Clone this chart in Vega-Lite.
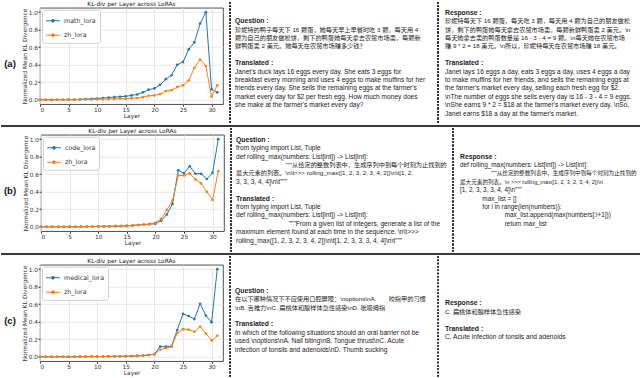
{
  "$schema": "https://vega.github.io/schema/vega-lite/v6.json",
  "padding": 0,
  "background": "white",
  "config": {
    "font": "Liberation Sans",
    "view": {"stroke": "#222", "strokeWidth": 0.8},
    "concat": {"spacing": 0},
    "axis": {"labelFont": "DejaVu Sans", "titleFont": "DejaVu Sans", "labelFontSize": 5.8, "titleFontSize": 5.9, "titleFontWeight": "normal", "labelColor": "#333", "titleColor": "#333", "tickColor": "#333", "tickSize": 2, "labelPadding": 0.5, "titlePadding": 0.5, "domain": false, "gridColor": "#e2e2e2", "gridWidth": 0.8},
    "title": {"font": "DejaVu Sans", "fontSize": 5.9, "fontWeight": "normal", "offset": 0.5, "color": "#222"},
    "legend": {"orient": "top-left", "offset": 2, "padding": 3.5, "strokeColor": "#d0d0d0", "fillColor": "white", "cornerRadius": 2, "labelFont": "DejaVu Sans", "labelFontSize": 6.3, "labelColor": "#333", "rowPadding": 3.5, "labelOffset": 3.5, "symbolSize": 190, "symbolStrokeWidth": 1, "symbolType": "M-1,0H1M-0.2,0A0.2,0.2,0,1,1,0.2,0A0.2,0.2,0,1,1,-0.2,0"}
  },
  "datasets": {
    "a": [
      {"layer":0,"math_lora":0,"zh_lora":0},{"layer":1,"math_lora":0,"zh_lora":0},{"layer":2,"math_lora":0,"zh_lora":0},{"layer":3,"math_lora":0,"zh_lora":0},
      {"layer":4,"math_lora":0,"zh_lora":0},{"layer":5,"math_lora":0.002,"zh_lora":0},{"layer":6,"math_lora":0.003,"zh_lora":0},{"layer":7,"math_lora":0.005,"zh_lora":0.002},
      {"layer":8,"math_lora":0.008,"zh_lora":0.003},{"layer":9,"math_lora":0.01,"zh_lora":0.004},{"layer":10,"math_lora":0.015,"zh_lora":0.005},{"layer":11,"math_lora":0.02,"zh_lora":0.006},
      {"layer":12,"math_lora":0.025,"zh_lora":0.008},{"layer":13,"math_lora":0.03,"zh_lora":0.01},{"layer":14,"math_lora":0.035,"zh_lora":0.012},{"layer":15,"math_lora":0.04,"zh_lora":0.012},
      {"layer":16,"math_lora":0.05,"zh_lora":0.018},{"layer":17,"math_lora":0.06,"zh_lora":0.02},{"layer":18,"math_lora":0.085,"zh_lora":0.03},{"layer":19,"math_lora":0.115,"zh_lora":0.045},
      {"layer":20,"math_lora":0.13,"zh_lora":0.05},{"layer":21,"math_lora":0.17,"zh_lora":0.065},{"layer":22,"math_lora":0.235,"zh_lora":0.1},{"layer":23,"math_lora":0.28,"zh_lora":0.11},
      {"layer":24,"math_lora":0.4,"zh_lora":0.145},{"layer":25,"math_lora":0.43,"zh_lora":0.165},{"layer":26,"math_lora":0.575,"zh_lora":0.22},{"layer":27,"math_lora":0.655,"zh_lora":0.365},
      {"layer":28,"math_lora":0.87,"zh_lora":0.46},{"layer":29,"math_lora":1.0,"zh_lora":0.385},{"layer":30,"math_lora":0.12,"zh_lora":0.035},{"layer":31,"math_lora":0.085,"zh_lora":0.165}
    ],
    "b": [
      {"layer":0,"code_lora":0,"zh_lora":0},{"layer":1,"code_lora":0,"zh_lora":0},{"layer":2,"code_lora":0,"zh_lora":0},{"layer":3,"code_lora":0,"zh_lora":0},
      {"layer":4,"code_lora":0,"zh_lora":0},{"layer":5,"code_lora":0,"zh_lora":0},{"layer":6,"code_lora":0,"zh_lora":0},{"layer":7,"code_lora":0.001,"zh_lora":0.001},
      {"layer":8,"code_lora":0.002,"zh_lora":0.002},{"layer":9,"code_lora":0.003,"zh_lora":0.003},{"layer":10,"code_lora":0.004,"zh_lora":0.004},{"layer":11,"code_lora":0.005,"zh_lora":0.005},
      {"layer":12,"code_lora":0.006,"zh_lora":0.006},{"layer":13,"code_lora":0.007,"zh_lora":0.007},{"layer":14,"code_lora":0.008,"zh_lora":0.008},{"layer":15,"code_lora":0.01,"zh_lora":0.01},
      {"layer":16,"code_lora":0.015,"zh_lora":0.015},{"layer":17,"code_lora":0.02,"zh_lora":0.02},{"layer":18,"code_lora":0.025,"zh_lora":0.025},{"layer":19,"code_lora":0.03,"zh_lora":0.03},
      {"layer":20,"code_lora":0.035,"zh_lora":0.045},{"layer":21,"code_lora":0.07,"zh_lora":0.09},{"layer":22,"code_lora":0.14,"zh_lora":0.19},{"layer":23,"code_lora":0.26,"zh_lora":0.3},
      {"layer":24,"code_lora":0.645,"zh_lora":0.585},{"layer":25,"code_lora":0.61,"zh_lora":0.585},{"layer":26,"code_lora":0.69,"zh_lora":0.61},{"layer":27,"code_lora":0.605,"zh_lora":0.54},
      {"layer":28,"code_lora":0.605,"zh_lora":0.495},{"layer":29,"code_lora":0.545,"zh_lora":0.4},{"layer":30,"code_lora":0.615,"zh_lora":0.305},{"layer":31,"code_lora":1.0,"zh_lora":0.635}
    ],
    "c": [
      {"layer":0,"medical_lora":0,"zh_lora":0},{"layer":1,"medical_lora":0,"zh_lora":0},{"layer":2,"medical_lora":0,"zh_lora":0},{"layer":3,"medical_lora":0,"zh_lora":0},
      {"layer":4,"medical_lora":0,"zh_lora":0},{"layer":5,"medical_lora":0,"zh_lora":0},{"layer":6,"medical_lora":0,"zh_lora":0},{"layer":7,"medical_lora":0.001,"zh_lora":0.001},
      {"layer":8,"medical_lora":0.002,"zh_lora":0.002},{"layer":9,"medical_lora":0.002,"zh_lora":0.002},{"layer":10,"medical_lora":0.003,"zh_lora":0.003},{"layer":11,"medical_lora":0.003,"zh_lora":0.003},
      {"layer":12,"medical_lora":0.004,"zh_lora":0.004},{"layer":13,"medical_lora":0.005,"zh_lora":0.005},{"layer":14,"medical_lora":0.006,"zh_lora":0.006},{"layer":15,"medical_lora":0.007,"zh_lora":0.007},
      {"layer":16,"medical_lora":0.008,"zh_lora":0.008},{"layer":17,"medical_lora":0.01,"zh_lora":0.01},{"layer":18,"medical_lora":0.015,"zh_lora":0.015},{"layer":19,"medical_lora":0.02,"zh_lora":0.02},
      {"layer":20,"medical_lora":0.03,"zh_lora":0.03},{"layer":21,"medical_lora":0.115,"zh_lora":0.08},{"layer":22,"medical_lora":0.115,"zh_lora":0.1},{"layer":23,"medical_lora":0.12,"zh_lora":0.115},
      {"layer":24,"medical_lora":0.305,"zh_lora":0.27},{"layer":25,"medical_lora":0.49,"zh_lora":0.315},{"layer":26,"medical_lora":0.465,"zh_lora":0.31},{"layer":27,"medical_lora":0.43,"zh_lora":0.285},
      {"layer":28,"medical_lora":0.605,"zh_lora":0.345},{"layer":29,"medical_lora":0.47,"zh_lora":0.265},{"layer":30,"medical_lora":0.395,"zh_lora":0.185},{"layer":31,"medical_lora":1.0,"zh_lora":0.24}
    ],
    "text": [
      {"row":"a","panel":"q","line":0,"kind":"head","text":"Question :"},
      {"row":"a","panel":"q","line":1,"kind":"zh","text":"珍妮特的鸭子每天下 16 颗蛋，她每天早上早餐时吃 3 颗，每天用 4"},
      {"row":"a","panel":"q","line":2,"kind":"zh","text":"颗为自己的朋友做松饼，剩下的鸭蛋她每天拿去农贸市场卖，每颗新"},
      {"row":"a","panel":"q","line":3,"kind":"zh","text":"鲜鸭蛋卖 2 美元。她每天在农贸市场赚多少钱？"},
      {"row":"a","panel":"q","line":5,"kind":"head","text":"Translated :"},
      {"row":"a","panel":"q","line":6,"kind":"en","text":"Janet's duck lays 16 eggs every day. She eats 3 eggs for"},
      {"row":"a","panel":"q","line":7,"kind":"en","text":"breakfast every morning and uses 4 eggs to make muffins for her"},
      {"row":"a","panel":"q","line":8,"kind":"en","text":"friends every day. She sells the remaining eggs at the farmer's"},
      {"row":"a","panel":"q","line":9,"kind":"en","text":"market every day for $2 per fresh egg. How much money does"},
      {"row":"a","panel":"q","line":10,"kind":"en","text":"she make at the farmer's market every day?"},
      {"row":"a","panel":"r","line":0,"kind":"head","text":"Response :"},
      {"row":"a","panel":"r","line":1,"kind":"zh","text":"珍妮特每天下 16 颗蛋，每天吃 3 颗，每天用 4 颗为自己的朋友做松"},
      {"row":"a","panel":"r","line":2,"kind":"zh","text":"饼，剩下的鸭蛋她每天拿去农贸市场卖，每颗新鲜鸭蛋卖 2 美元。\\n"},
      {"row":"a","panel":"r","line":3,"kind":"zh","text":"每天她拿去卖的鸭蛋数量是 16 - 3 - 4 = 9 颗。\\n每天她在农贸市场"},
      {"row":"a","panel":"r","line":4,"kind":"zh","text":"赚 9 * 2 = 18 美元。\\n所以，珍妮特每天在农贸市场赚 18 美元。"},
      {"row":"a","panel":"r","line":6,"kind":"head","text":"Translated :"},
      {"row":"a","panel":"r","line":7,"kind":"en","text":"Janet lays 16 eggs a day, eats 3 eggs a day, uses 4 eggs a day"},
      {"row":"a","panel":"r","line":8,"kind":"en","text":"to make muffins for her friends, and sells the remaining eggs at"},
      {"row":"a","panel":"r","line":9,"kind":"en","text":"the farmer's market every day, selling each fresh egg for $2."},
      {"row":"a","panel":"r","line":10,"kind":"en","text":"\\nThe number of eggs she sells every day is 16 - 3 - 4 = 9 eggs."},
      {"row":"a","panel":"r","line":11,"kind":"en","text":"\\nShe earns 9 * 2 = $18 at the farmer's market every day. \\nSo,"},
      {"row":"a","panel":"r","line":12,"kind":"en","text":"Janet earns $18 a day at the farmer's market."},
      {"row":"b","panel":"q","line":0,"kind":"head","text":"Question :"},
      {"row":"b","panel":"q","line":1,"kind":"en","text":"from typing import List, Tuple"},
      {"row":"b","panel":"q","line":2,"kind":"en","text":"def rolling_max(numbers: List[int]) -> List[int]:"},
      {"row":"b","panel":"q","line":3,"kind":"zh","text":"\u200b\u2003\u2003\u2003\u2003\u2003\u2003\u2003\u2003\"\"\"从给定的整数列表中，生成序列中到每个时刻为止找到的"},
      {"row":"b","panel":"q","line":4,"kind":"zh","text":"最大元素的列表。\\n\\t>>> rolling_max([1, 2, 3, 2, 3, 4, 2])\\n\\t[1, 2,"},
      {"row":"b","panel":"q","line":5,"kind":"en","text":"3, 3, 3, 4, 4]\\n\\t\"\"\""},
      {"row":"b","panel":"q","line":7,"kind":"head","text":"Translated :"},
      {"row":"b","panel":"q","line":8,"kind":"en","text":"from typing import List, Tuple"},
      {"row":"b","panel":"q","line":9,"kind":"en","text":"def rolling_max(numbers: List[int]) -> List[int]:"},
      {"row":"b","panel":"q","line":10,"kind":"en","text":"\u200b\u2003\u2003\u2003\u2003\u2003\u2003\u2003\u2003\"\"\"From a given list of integers, generate a list of the"},
      {"row":"b","panel":"q","line":11,"kind":"en","text":"maximum element found at each time in the sequence. \\n\\t>>>"},
      {"row":"b","panel":"q","line":12,"kind":"en","text":"rolling_max([1, 2, 3, 2, 3, 4, 2])\\n\\t[1, 2, 3, 3, 3, 4, 4]\\n\\t\"\"\""},
      {"row":"b","panel":"r","line":0,"kind":"head","text":"Response :"},
      {"row":"b","panel":"r","line":1,"kind":"en","text":"def rolling_max(numbers: List[int]) -> List[int]:"},
      {"row":"b","panel":"r","line":2,"kind":"zh","text":"\u200b\u2003\u2003\u2003\u2003\u2003\u2002\"\"\"从给定的整数列表中，生成序列中到每个时刻为止找到的"},
      {"row":"b","panel":"r","line":3,"kind":"zh","text":"最大元素的列表。\\n  >>> rolling_max([1, 2, 3, 2, 3, 4, 2])\\n"},
      {"row":"b","panel":"r","line":4,"kind":"en","text":"[1, 2, 3, 3, 3, 4, 4]\\n\"\"\""},
      {"row":"b","panel":"r","line":5,"kind":"en","text":"\u200b\u2003\u2003\u2003\u2002max_list = []"},
      {"row":"b","panel":"r","line":6,"kind":"en","text":"\u200b\u2003\u2003\u2003\u2002for i in range(len(numbers)):"},
      {"row":"b","panel":"r","line":7,"kind":"en","text":"\u200b\u2003\u2003\u2003\u2003\u2003\u2003\u2003max_list.append(max(numbers[:i+1]))"},
      {"row":"b","panel":"r","line":8,"kind":"en","text":"\u200b\u2003\u2003\u2003\u2003\u2003\u2003\u2003return max_list"},
      {"row":"c","panel":"q","line":0,"kind":"head","text":"Question :"},
      {"row":"c","panel":"q","line":1,"kind":"zh","text":"在以下哪种情况下不应使用口腔屏障：\\noptions\\nA.\u2003\u2003咬指甲的习惯"},
      {"row":"c","panel":"q","line":2,"kind":"zh","text":"\\nB. 舌推力\\nC. 扁桃体和腺样体急性感染\\nD. 吮吸拇指"},
      {"row":"c","panel":"q","line":4,"kind":"head","text":"Translated :"},
      {"row":"c","panel":"q","line":5,"kind":"en","text":"In which of the following situations should an oral barrier not be"},
      {"row":"c","panel":"q","line":6,"kind":"en","text":"used \\noptions\\nA.  Nail biting\\nB.  Tongue thrust\\nC.  Acute"},
      {"row":"c","panel":"q","line":7,"kind":"en","text":"infection of tonsils and adenoids\\nD. Thumb sucking"},
      {"row":"c","panel":"r","line":0,"kind":"head","text":"Response :"},
      {"row":"c","panel":"r","line":1,"kind":"zh","text":"C. 扁桃体和腺样体急性感染"},
      {"row":"c","panel":"r","line":3,"kind":"head","text":"Translated :"},
      {"row":"c","panel":"r","line":4,"kind":"en","text":"C. Acute infection of tonsils and adenoids"}
    ]
  },
  "resolve": {"scale": {"x": "independent", "y": "independent", "color": "independent"}, "legend": {"color": "independent"}},
  "vconcat": [
    {
      "hconcat": [
        {"width": 14, "height": 122, "view": {"stroke": null}, "data": {"values": [{"label": "(a)"}]}, "mark": {"type": "text", "fontSize": 9.5, "fontWeight": "bold", "color": "#111", "dx": 2}, "encoding": {"text": {"field": "label"}}},
        {
          "width": 183, "height": 96.4,
          "data": {"name": "a"},
          "transform": [{"fold": ["math_lora", "zh_lora"], "as": ["lora", "kl"]}],
          "title": "KL-div per Layer across LoRAs",
          "encoding": {
            "x": {"field": "layer", "type": "quantitative", "title": "Layer", "scale": {"domain": [0, 32], "nice": false}, "axis": {"values": [0, 5, 10, 15, 20, 25, 30]}},
            "y": {"field": "kl", "type": "quantitative", "title": "Normalized Mean KL Divergence", "scale": {"domain": [-0.05, 1.05], "nice": false, "zero": false}, "axis": {"values": [0, 0.2, 0.4, 0.6, 0.8, 1], "format": ".1f"}},
            "color": {"field": "lora", "type": "nominal", "scale": {"domain": ["math_lora", "zh_lora"], "range": ["#1f77b4", "#ff7f0e"]}, "legend": {"title": null}}
          },
          "layer": [
            {"mark": {"type": "line", "strokeWidth": 1}},
            {"mark": {"type": "point", "filled": true, "size": 7, "opacity": 1}}
          ]
        },
        {
          "width": 201.7, "height": 122, "view": {"stroke": null},
          "data": {"name": "text"},
          "transform": [{"filter": "datum.row === 'a' && datum.panel === 'q'"}],
          "encoding": {
            "x": {"datum": 0, "type": "quantitative", "scale": {"domain": [0, 1]}, "axis": null},
            "y": {"field": "line", "type": "quantitative", "scale": {"domain": [-2.262, 12.262], "reverse": true, "nice": false, "zero": false}, "axis": null},
            "text": {"field": "text"}
          },
          "layer": [
            {"mark": {"type": "rule", "strokeDash": [1.5, 1.8], "strokeWidth": 1.4, "color": "#333"}, "encoding": {"y": null, "text": null}},
            {"transform": [{"filter": "datum.kind === 'head'"}], "mark": {"type": "text", "align": "left", "baseline": "middle", "dx": 5, "fontSize": 6.8, "fontWeight": "bold", "color": "#222"}},
            {"transform": [{"filter": "datum.kind === 'zh'"}], "mark": {"type": "text", "align": "left", "baseline": "middle", "dx": 5, "fontSize": 6.2, "color": "#222", "font": "Liberation Sans, Noto Sans CJK SC"}},
            {"transform": [{"filter": "datum.kind === 'en'"}], "mark": {"type": "text", "align": "left", "baseline": "middle", "dx": 5, "fontSize": 6.6, "color": "#222"}}
          ]
        },
        {
          "width": 206, "height": 122, "view": {"stroke": null},
          "data": {"name": "text"},
          "transform": [{"filter": "datum.row === 'a' && datum.panel === 'r'"}],
          "encoding": {
            "x": {"datum": 0, "type": "quantitative", "scale": {"domain": [0, 1]}, "axis": null},
            "y": {"field": "line", "type": "quantitative", "scale": {"domain": [-1.262, 13.262], "reverse": true, "nice": false, "zero": false}, "axis": null},
            "text": {"field": "text"}
          },
          "layer": [
            {"mark": {"type": "rule", "strokeDash": [1.5, 1.8], "strokeWidth": 1.4, "color": "#333"}, "encoding": {"y": null, "text": null}},
            {"transform": [{"filter": "datum.kind === 'head'"}], "mark": {"type": "text", "align": "left", "baseline": "middle", "dx": 7, "fontSize": 6.8, "fontWeight": "bold", "color": "#222"}},
            {"transform": [{"filter": "datum.kind === 'zh'"}], "mark": {"type": "text", "align": "left", "baseline": "middle", "dx": 7, "fontSize": 6.2, "color": "#222", "font": "Liberation Sans, Noto Sans CJK SC"}},
            {"transform": [{"filter": "datum.kind === 'en'"}], "mark": {"type": "text", "align": "left", "baseline": "middle", "dx": 7, "fontSize": 6.6, "color": "#222"}}
          ]
        }
      ],
      "spacing": 5, "center": true,
      "resolve": {"scale": {"x": "independent", "y": "independent", "color": "independent"}, "legend": {"color": "independent"}}
    },
    {"width": 640, "height": 2, "view": {"stroke": null}, "data": {"values": [{}]}, "mark": {"type": "rule", "color": "#3a3a3a", "strokeWidth": 2}, "encoding": {"y": {"datum": 0.5, "type": "quantitative", "scale": {"domain": [0, 1]}, "axis": null}}},
    {
      "hconcat": [
        {"width": 14, "height": 124, "view": {"stroke": null}, "data": {"values": [{"label": "(b)"}]}, "mark": {"type": "text", "fontSize": 9.5, "fontWeight": "bold", "color": "#111", "dx": 2}, "encoding": {"text": {"field": "label"}}},
        {
          "width": 183, "height": 96.4,
          "data": {"name": "b"},
          "transform": [{"fold": ["code_lora", "zh_lora"], "as": ["lora", "kl"]}],
          "title": "KL-div per Layer across LoRAs",
          "encoding": {
            "x": {"field": "layer", "type": "quantitative", "title": "Layer", "scale": {"domain": [0, 32], "nice": false}, "axis": {"values": [0, 5, 10, 15, 20, 25, 30]}},
            "y": {"field": "kl", "type": "quantitative", "title": "Normalized Mean KL Divergence", "scale": {"domain": [-0.05, 1.05], "nice": false, "zero": false}, "axis": {"values": [0, 0.2, 0.4, 0.6, 0.8, 1], "format": ".1f"}},
            "color": {"field": "lora", "type": "nominal", "scale": {"domain": ["code_lora", "zh_lora"], "range": ["#1f77b4", "#ff7f0e"]}, "legend": {"title": null}}
          },
          "layer": [
            {"mark": {"type": "line", "strokeWidth": 1}},
            {"mark": {"type": "point", "filled": true, "size": 7, "opacity": 1}}
          ]
        },
        {
          "width": 201.7, "height": 124, "view": {"stroke": null},
          "data": {"name": "text"},
          "transform": [{"filter": "datum.row === 'b' && datum.panel === 'q'"}],
          "encoding": {
            "x": {"datum": 0, "type": "quantitative", "scale": {"domain": [0, 1]}, "axis": null},
            "y": {"field": "line", "type": "quantitative", "scale": {"domain": [-1.381, 13.381], "reverse": true, "nice": false, "zero": false}, "axis": null},
            "text": {"field": "text"}
          },
          "layer": [
            {"mark": {"type": "rule", "strokeDash": [1.5, 1.8], "strokeWidth": 1.4, "color": "#333"}, "encoding": {"y": null, "text": null}},
            {"transform": [{"filter": "datum.kind === 'head'"}], "mark": {"type": "text", "align": "left", "baseline": "middle", "dx": 5, "fontSize": 6.8, "fontWeight": "bold", "color": "#222"}},
            {"transform": [{"filter": "datum.kind === 'zh'"}], "mark": {"type": "text", "align": "left", "baseline": "middle", "dx": 5, "fontSize": 6.2, "color": "#222", "font": "Liberation Sans, Noto Sans CJK SC"}},
            {"transform": [{"filter": "datum.kind === 'en'"}], "mark": {"type": "text", "align": "left", "baseline": "middle", "dx": 5, "fontSize": 6.6, "color": "#222"}}
          ]
        },
        {
          "width": 206, "height": 124, "view": {"stroke": null},
          "data": {"name": "text"},
          "transform": [{"filter": "datum.row === 'b' && datum.panel === 'r'"}],
          "encoding": {
            "x": {"datum": 0, "type": "quantitative", "scale": {"domain": [0, 1]}, "axis": null},
            "y": {"field": "line", "type": "quantitative", "scale": {"domain": [-3.381, 11.381], "reverse": true, "nice": false, "zero": false}, "axis": null},
            "text": {"field": "text"}
          },
          "layer": [
            {"mark": {"type": "rule", "strokeDash": [1.5, 1.8], "strokeWidth": 1.4, "color": "#333"}, "encoding": {"y": null, "text": null}},
            {"transform": [{"filter": "datum.kind === 'head'"}], "mark": {"type": "text", "align": "left", "baseline": "middle", "dx": 7, "fontSize": 6.8, "fontWeight": "bold", "color": "#222"}},
            {"transform": [{"filter": "datum.kind === 'zh'"}], "mark": {"type": "text", "align": "left", "baseline": "middle", "dx": 7, "fontSize": 5.6, "color": "#222", "font": "Liberation Sans, Noto Sans CJK SC"}},
            {"transform": [{"filter": "datum.kind === 'en'"}], "mark": {"type": "text", "align": "left", "baseline": "middle", "dx": 7, "fontSize": 6.4, "color": "#222"}}
          ]
        }
      ],
      "spacing": 5, "center": true,
      "resolve": {"scale": {"x": "independent", "y": "independent", "color": "independent"}, "legend": {"color": "independent"}}
    },
    {"width": 640, "height": 2, "view": {"stroke": null}, "data": {"values": [{}]}, "mark": {"type": "rule", "color": "#3a3a3a", "strokeWidth": 2}, "encoding": {"y": {"datum": 0.5, "type": "quantitative", "scale": {"domain": [0, 1]}, "axis": null}}},
    {
      "hconcat": [
        {"width": 14, "height": 128, "view": {"stroke": null}, "data": {"values": [{"label": "(c)"}]}, "mark": {"type": "text", "fontSize": 9.5, "fontWeight": "bold", "color": "#111", "dx": 2}, "encoding": {"text": {"field": "label"}}},
        {
          "width": 183, "height": 96.4,
          "data": {"name": "c"},
          "transform": [{"fold": ["medical_lora", "zh_lora"], "as": ["lora", "kl"]}],
          "title": "KL-div per Layer across LoRAs",
          "encoding": {
            "x": {"field": "layer", "type": "quantitative", "title": "Layer", "scale": {"domain": [0, 32], "nice": false}, "axis": {"values": [0, 5, 10, 15, 20, 25, 30]}},
            "y": {"field": "kl", "type": "quantitative", "title": "Normalized Mean KL Divergence", "scale": {"domain": [-0.05, 1.05], "nice": false, "zero": false}, "axis": {"values": [0, 0.2, 0.4, 0.6, 0.8, 1], "format": ".1f"}},
            "color": {"field": "lora", "type": "nominal", "scale": {"domain": ["medical_lora", "zh_lora"], "range": ["#1f77b4", "#ff7f0e"]}, "legend": {"title": null}}
          },
          "layer": [
            {"mark": {"type": "line", "strokeWidth": 1}},
            {"mark": {"type": "point", "filled": true, "size": 7, "opacity": 1}}
          ]
        },
        {
          "width": 201.7, "height": 128, "view": {"stroke": null},
          "data": {"name": "text"},
          "transform": [{"filter": "datum.row === 'c' && datum.panel === 'q'"}],
          "encoding": {
            "x": {"datum": 0, "type": "quantitative", "scale": {"domain": [0, 1]}, "axis": null},
            "y": {"field": "line", "type": "quantitative", "scale": {"domain": [-4.119, 11.119], "reverse": true, "nice": false, "zero": false}, "axis": null},
            "text": {"field": "text"}
          },
          "layer": [
            {"mark": {"type": "rule", "strokeDash": [1.5, 1.8], "strokeWidth": 1.4, "color": "#333"}, "encoding": {"y": null, "text": null}},
            {"transform": [{"filter": "datum.kind === 'head'"}], "mark": {"type": "text", "align": "left", "baseline": "middle", "dx": 5, "fontSize": 6.8, "fontWeight": "bold", "color": "#222"}},
            {"transform": [{"filter": "datum.kind === 'zh'"}], "mark": {"type": "text", "align": "left", "baseline": "middle", "dx": 5, "fontSize": 6.2, "color": "#222", "font": "Liberation Sans, Noto Sans CJK SC"}},
            {"transform": [{"filter": "datum.kind === 'en'"}], "mark": {"type": "text", "align": "left", "baseline": "middle", "dx": 5, "fontSize": 6.6, "color": "#222"}}
          ]
        },
        {
          "width": 206, "height": 128, "view": {"stroke": null},
          "data": {"name": "text"},
          "transform": [{"filter": "datum.row === 'c' && datum.panel === 'r'"}],
          "encoding": {
            "x": {"datum": 0, "type": "quantitative", "scale": {"domain": [0, 1]}, "axis": null},
            "y": {"field": "line", "type": "quantitative", "scale": {"domain": [-5.619, 9.619], "reverse": true, "nice": false, "zero": false}, "axis": null},
            "text": {"field": "text"}
          },
          "layer": [
            {"mark": {"type": "rule", "strokeDash": [1.5, 1.8], "strokeWidth": 1.4, "color": "#333"}, "encoding": {"y": null, "text": null}},
            {"transform": [{"filter": "datum.kind === 'head'"}], "mark": {"type": "text", "align": "left", "baseline": "middle", "dx": 7, "fontSize": 6.8, "fontWeight": "bold", "color": "#222"}},
            {"transform": [{"filter": "datum.kind === 'zh'"}], "mark": {"type": "text", "align": "left", "baseline": "middle", "dx": 7, "fontSize": 6.2, "color": "#222", "font": "Liberation Sans, Noto Sans CJK SC"}},
            {"transform": [{"filter": "datum.kind === 'en'"}], "mark": {"type": "text", "align": "left", "baseline": "middle", "dx": 7, "fontSize": 6.6, "color": "#222"}}
          ]
        }
      ],
      "spacing": 5, "center": true,
      "resolve": {"scale": {"x": "independent", "y": "independent", "color": "independent"}, "legend": {"color": "independent"}}
    }
  ]
}
